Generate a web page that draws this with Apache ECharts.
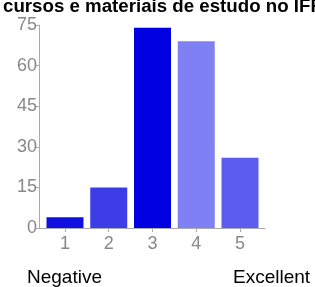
<!DOCTYPE html>
<html>
<head>
<meta charset="utf-8">
<script src="https://cdn.jsdelivr.net/npm/echarts@6/dist/echarts.min.js"></script>
<style>
  html, body { margin: 0; padding: 0; background: #fff; }
  #chart { width: 315px; height: 287px; }
</style>
</head>
<body>
<div id="chart"></div>
<script>
var categories = ['1', '2', '3', '4', '5'];
var positions = [1, 2, 3, 4, 5];
var counts = [4, 15, 74, 69, 26];
var barColors = ['#1010e0', '#3d3de8', '#0000e0', '#8080f5', '#5c5cf0'];
var titleText = 'cursos e materiais de estudo no IFRN';

var chart = echarts.init(document.getElementById('chart'));

// bars sit on a value axis so the axis line can run a bit past the outer bars
var barData = [];
for (var i = 0; i < counts.length; i++) {
    barData.push({ value: [positions[i], counts[i]], itemStyle: { color: barColors[i] } });
}

var option = {
    animation: false,
    grid: { left: 39, right: 50, top: 25, bottom: 59 },
    graphic: [
        { type: 'text', left: 3, top: -3, style: { text: titleText, font: 'bold 18.7px Arial, "Liberation Sans"', fill: '#000' } },
        { type: 'text', left: 27, top: 268, style: { text: 'Negative', font: '19px Arial, "Liberation Sans"', fill: '#000' } },
        { type: 'text', left: 233, top: 268, style: { text: 'Excellent', font: '19px Arial, "Liberation Sans"', fill: '#000' } }
    ],
    xAxis: {
        type: 'value',
        min: 0.406,
        max: 5.571,
        splitLine: { show: false },
        axisLine: { show: true, lineStyle: { color: '#aaa' } },
        axisTick: { show: true, length: 4, customValues: positions, lineStyle: { color: '#aaa' } },
        axisLabel: {
            color: '#888', fontSize: 18, fontFamily: 'Arial', margin: 7,
            customValues: positions,
            formatter: function (v) { return categories[positions.indexOf(v)]; }
        }
    },
    yAxis: {
        type: 'value',
        min: 0,
        max: 75,
        interval: 15,
        axisLine: { show: true, lineStyle: { color: '#aaa' } },
        axisTick: { show: true, length: 3, lineStyle: { color: '#aaa' } },
        axisLabel: { color: '#888', fontSize: 18, fontFamily: 'Arial', margin: 2 },
        splitLine: { show: false }
    },
    series: [{
        type: 'bar',
        data: barData,
        barWidth: 37
    }]
};

chart.setOption(option);
</script>
</body>
</html>
